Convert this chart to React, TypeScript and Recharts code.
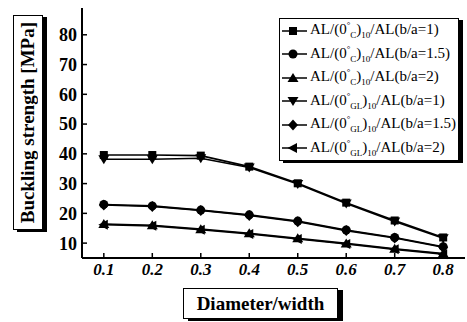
import { LineChart, Line, XAxis, YAxis, Legend } from "recharts";

const diameters = [0.1, 0.2, 0.3, 0.4, 0.5, 0.6, 0.7, 0.8];
const cB1 = [39.6, 39.6, 39.4, 35.7, 30.1, 23.6, 17.6, 11.9];
const cB15 = [23.0, 22.5, 21.1, 19.5, 17.4, 14.4, 11.9, 8.8];
const cB2 = [16.4, 16.0, 14.7, 13.3, 11.6, 9.9, 8.1, 6.5];
const glB1 = [38.2, 38.2, 38.5, 35.4, 29.9, 23.3, 17.3, 11.6];
const glB15 = [22.8, 22.3, 21.0, 19.3, 17.2, 14.2, 11.7, 8.6];
const glB2 = [16.2, 15.8, 14.5, 13.1, 11.4, 9.7, 7.9, 6.3];
const yTicks = [10, 20, 30, 40, 50, 60, 70, 80];

type Shape = "square" | "circle" | "triUp" | "triDown" | "diamond" | "triLeft";

const series: { key: string; fiber: string; ratio: string; shape: Shape; values: number[] }[] = [
  { key: "cB1", fiber: "C", ratio: "1", shape: "square", values: cB1 },
  { key: "cB15", fiber: "C", ratio: "1.5", shape: "circle", values: cB15 },
  { key: "cB2", fiber: "C", ratio: "2", shape: "triUp", values: cB2 },
  { key: "glB1", fiber: "GL", ratio: "1", shape: "triDown", values: glB1 },
  { key: "glB15", fiber: "GL", ratio: "1.5", shape: "diamond", values: glB15 },
  { key: "glB2", fiber: "GL", ratio: "2", shape: "triLeft", values: glB2 },
];

const data = diameters.map((x, i) => {
  const row: Record<string, number> = { x };
  series.forEach((s) => (row[s.key] = s.values[i]));
  return row;
});

const serif = "'Liberation Serif', 'Times New Roman', serif";

function Mark({ shape, cx, cy }: { shape: Shape; cx: number; cy: number }) {
  if (cx == null || cy == null) return null;
  const r = 4.5;
  switch (shape) {
    case "square":
      return <rect x={cx - 4} y={cy - 4} width={8} height={8} fill="#000" />;
    case "circle":
      return <circle cx={cx} cy={cy} r={r} fill="#000" />;
    case "triUp":
      return <polygon points={`${cx},${cy - 5} ${cx + 5.5},${cy + 4} ${cx - 5.5},${cy + 4}`} fill="#000" />;
    case "triDown":
      return <polygon points={`${cx},${cy + 5} ${cx + 5.5},${cy - 4} ${cx - 5.5},${cy - 4}`} fill="#000" />;
    case "diamond":
      return <polygon points={`${cx},${cy - 5.5} ${cx + 5},${cy} ${cx},${cy + 5.5} ${cx - 5},${cy}`} fill="#000" />;
    case "triLeft":
      return <polygon points={`${cx - 5.5},${cy} ${cx + 4},${cy - 5} ${cx + 4},${cy + 5}`} fill="#000" />;
  }
}

function LegendBox() {
  return (
    <div
      style={{
        width: 178,
        border: "1.5px solid #000",
        boxShadow: "4px 2px 0 #000",
        background: "#fff",
        fontFamily: serif,
        fontSize: 15,
        color: "#000",
      }}
    >
      {series.map((s) => (
        <div key={s.key} style={{ height: 23.5, display: "flex", alignItems: "center", whiteSpace: "nowrap" }}>
          <svg width={30} height={14} style={{ flex: "none" }}>
            <line x1={2} y1={7} x2={27} y2={7} stroke="#000" strokeWidth={1.5} />
            <Mark shape={s.shape} cx={13} cy={7} />
          </svg>
          <span style={{ lineHeight: 1 }}>
            AL/(0<sup style={{ fontSize: 9 }}>°</sup>
            <sub style={{ fontSize: 9 }}>{s.fiber}</sub>)<sub style={{ fontSize: 9 }}>10</sub>/AL(b/a={s.ratio})
          </span>
        </div>
      ))}
    </div>
  );
}

export default function App() {
  return (
    <div style={{ position: "absolute", left: 0, top: 0, width: 467, height: 322, background: "#fff" }}>
      <LineChart width={467} height={322} data={data} margin={{ top: 8, right: 2, left: 0, bottom: 0 }}>
        <XAxis
          dataKey="x"
          type="number"
          domain={[0.055, 0.845]}
          ticks={diameters}
          tickFormatter={(v: number) => v.toFixed(1)}
          height={64}
          tickSize={-5}
          tickMargin={10}
          axisLine={{ stroke: "#000", strokeWidth: 2 }}
          tickLine={{ stroke: "#000", strokeWidth: 1.5 }}
          tick={{ fill: "#000", fontFamily: serif, fontSize: 17, fontWeight: "bold", fontStyle: "italic" }}
        />
        <XAxis xAxisId="top" dataKey="x" type="number" domain={[0.055, 0.845]} orientation="top" height={0} tick={false} tickLine={false} axisLine={{ stroke: "#000", strokeWidth: 2 }} />
        <YAxis
          domain={[5, 89]}
          ticks={yTicks}
          width={82}
          tickSize={-5}
          tickMargin={10}
          axisLine={{ stroke: "#000", strokeWidth: 2 }}
          tickLine={{ stroke: "#000", strokeWidth: 1.5 }}
          tick={{ fill: "#000", fontFamily: serif, fontSize: 18, fontWeight: "bold" }}
        />
        <YAxis yAxisId="r" orientation="right" width={0} tick={false} tickLine={false} axisLine={{ stroke: "#000", strokeWidth: 2 }} />
        <Legend
          layout="horizontal"
          verticalAlign="middle"
          align="center"
          wrapperStyle={{ left: 279, top: 18, width: 184 }}
          content={() => <LegendBox />}
        />
        {series.map((s) => (
          <Line
            key={s.key}
            dataKey={s.key}
            name={`AL/(0°${s.fiber})10/AL(b/a=${s.ratio})`}
            stroke="#000"
            strokeWidth={1.6}
            isAnimationActive={false}
            dot={(p: any) => <Mark key={`${s.key}-${p.index}`} shape={s.shape} cx={p.cx} cy={p.cy} />}
            activeDot={false}
          />
        ))}
      </LineChart>
      <div
        style={{
          position: "absolute",
          left: 13,
          top: 15,
          width: 30,
          height: 215,
          border: "1.5px solid #000",
          boxShadow: "4px 2px 0 #000",
          boxSizing: "border-box",
          display: "flex",
          alignItems: "center",
          justifyContent: "center",
        }}
      >
        <span
          style={{
            writingMode: "vertical-rl",
            transform: "rotate(180deg)",
            fontFamily: serif,
            fontWeight: "bold",
            fontSize: 19,
            whiteSpace: "nowrap",
          }}
        >
          Buckling strength [MPa]
        </span>
      </div>
      <div
        style={{
          position: "absolute",
          left: 183,
          top: 288,
          width: 155,
          height: 31,
          border: "1.5px solid #000",
          boxShadow: "5px 2px 0 #000",
          boxSizing: "border-box",
          display: "flex",
          alignItems: "center",
          justifyContent: "center",
          fontFamily: serif,
          fontWeight: "bold",
          fontSize: 19,
          whiteSpace: "nowrap",
        }}
      >
        Diameter/width
      </div>
    </div>
  );
}
